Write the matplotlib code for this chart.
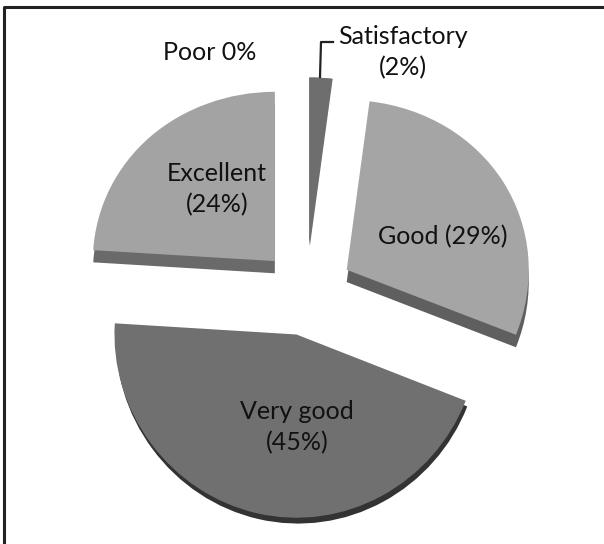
import matplotlib
matplotlib.use("Agg")
import matplotlib.pyplot as plt
import numpy as np

# order follows the pie, clockwise from 12 o'clock
CATEGORIES = ["Satisfactory", "Good", "Very good", "Excellent", "Poor"]
VALUES = [2, 29, 45, 24, 0]
LABELS = ["Satisfactory\n(2%)", "Good (29%)", "Very good\n(45%)", "Excellent\n(24%)", "Poor 0%"]

TOP_COLORS = ["#6e6e6e", "#a5a5a5", "#707070", "#a3a3a3", "#a3a3a3"]
SIDE_COLORS = ["#6e6e6e", "#5f5f5f", "#333333", "#6a6a6a", "#6a6a6a"]
EXPLODE = [0.27, 0.26, 0.24, 0.25, 0.24]
SIDE_EXPLODE = [0.34, 0.26, 0.20, 0.25, 0.24]
LABEL_POS = [(403, 52), (443, 237), (297, 427), (217, 189), (210, 52)]

W, H = 604, 544
CX, CY = 306, 293
RX, RY = 182, 176
TILT = 0.028  # bottom of the pie looks bigger than the top


def forward(y):
    return y - TILT * y * y


def inverse(v):
    return (1 - np.sqrt(np.maximum(1 - 4 * TILT * v, 0))) / (2 * TILT)


plt.rcParams["font.family"] = ["Lato", "DejaVu Sans"]
fig = plt.figure(figsize=(W / 100, H / 100), dpi=100)
ax = fig.add_axes([0, 0, 1, 1])

ax.pie(VALUES, colors=SIDE_COLORS, explode=SIDE_EXPLODE, startangle=90, counterclock=False,
       center=(0, -0.07))
ax.pie(VALUES, colors=TOP_COLORS, explode=EXPLODE, startangle=90, counterclock=False)

ax.set_aspect("auto")
ax.set_yscale("function", functions=(forward, inverse))
ax.set_xlim(-CX / RX, (W - CX) / RX)
ax.set_ylim(inverse((CY - H) / RY), inverse(CY / RY))
ax.set_xticks([])
ax.set_yticks([])
ax.minorticks_off()

for label, (x, y) in zip(LABELS, LABEL_POS):
    fig.text(x / W, 1 - y / H, label, ha="center", va="center", fontsize=18, color="#111111",
             linespacing=1.45)

# leader for the small slice
fig.add_artist(plt.Line2D(np.array([320, 321, 333]) / W, 1 - np.array([77, 42, 42]) / H,
                          color="#222222", linewidth=1.6))

# frame, only top and left edges show up in the scan
fig.add_artist(plt.Line2D(np.array([4, 4, W]) / W, 1 - np.array([H, 7, 7]) / H,
                          color="#222222", linewidth=2.2))

fig.savefig("out.png", dpi=100, facecolor="white")
